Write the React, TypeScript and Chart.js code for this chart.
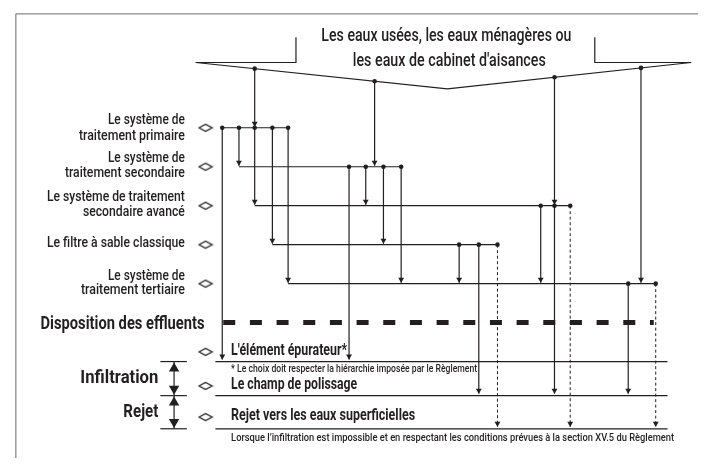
import React, { useEffect, useRef } from "react";
import { Chart, registerables } from "chart.js";

Chart.register(...registerables);

// ---------- data ----------
const titleLines = ["Les eaux usées, les eaux ménagères ou", "les eaux de cabinet d'aisances"];
const collectorX = [193, 449, 697];
const collectorY = [58, 85, 58];

const rowLabels = [
  ["Le système de", "traitement primaire"],
  ["Le système de", "traitement secondaire"],
  ["Le système de traitement", "secondaire avancé"],
  ["Le filtre à sable classique"],
  ["Le système de", "traitement tertiaire"],
];
const rowY = [125, 165, 205, 245, 285];
const rowStart = [220, 237, 253, 271, 287];
const rowTaps = [
  [220, 237, 253, 271, 287],
  [349, 366, 384, 402],
  [544, 558, 574],
  [461, 481, 500],
  [633, 661],
];
const sourceTaps = [253, 375, 558, 646];
const sourceTarget = [0, 1, 2, 4];

// [x, from row, target (row index or output index as "o0".."o2")]
const links: [number, number, number | string][] = [
  [220, 0, "o0"], [237, 0, 1], [253, 0, 2], [271, 0, 3], [287, 0, 4],
  [349, 1, "o0"], [366, 1, 2], [384, 1, 3], [402, 1, 4],
  [544, 2, 4], [558, 2, "o1"], [574, 2, "o2"],
  [461, 3, 4], [481, 3, "o1"], [500, 3, "o2"],
  [633, 4, "o1"], [661, 4, "o2"],
];

const dispositionLabel = "Disposition des effluents";
const outputLabels = ["L'élément épurateur*", "Le champ de polissage", "Rejet vers les eaux superficielles"];
const outputY = [365, 400, 434];
const outputNotes = [
  "* Le choix doit respecter la hiérarchie imposée par le Règlement",
  "Lorsque l’infiltration est impossible et en respectant les conditions prévues à la section XV.5 du Règlement",
];
const zoneLabels = ["Infiltration", "Rejet"];

// ---------- layout ----------
const W = 704;
const H = 464;
const INK = "#231f20";
const FONT = "Roboto, 'Noto Sans', sans-serif";

const vY = (x: number) => {
  for (let i = 0; i < collectorX.length - 1; i++) {
    if (x >= collectorX[i] && x <= collectorX[i + 1]) {
      const t = (x - collectorX[i]) / (collectorX[i + 1] - collectorX[i]);
      return collectorY[i] + t * (collectorY[i + 1] - collectorY[i]);
    }
  }
  return collectorY[0];
};

const targetY = (t: number | string) =>
  typeof t === "number" ? rowY[t] - 1 : outputY[Number(String(t).slice(1))] - 2;

type Txt = { s: string; x: number; y: number; size: number; weight: number; w: number; align: CanvasTextAlign };

function buildTexts(): Txt[] {
  const t: Txt[] = [];
  t.push({ s: titleLines[0], x: 448, y: 31, size: 17.5, weight: 500, w: 250, align: "center" });
  t.push({ s: titleLines[1], x: 451, y: 57, size: 17.5, weight: 500, w: 193, align: "center" });
  const labelY = [[117, 134], [156, 172], [196, 212], [244], [277, 292]];
  const labelW = [[77, 106], [77, 120], [138, 102], [138], [77, 104]];
  rowLabels.forEach((lines, i) =>
    lines.forEach((s, j) =>
      t.push({ s, x: 182, y: labelY[i][j], size: 15, weight: 500, w: labelW[i][j], align: "right" })
    )
  );
  t.push({ s: dispositionLabel, x: 202, y: 327, size: 18, weight: 700, w: 164, align: "right" });
  t.push({ s: zoneLabels[0], x: 155, y: 382, size: 18, weight: 700, w: 78, align: "right" });
  t.push({ s: zoneLabels[1], x: 155, y: 417, size: 18, weight: 700, w: 35, align: "right" });
  const outTextY = [354, 389, 421];
  const outW = [116, 126, 184];
  outputLabels.forEach((s, i) =>
    t.push({ s, x: 229, y: outTextY[i], size: 16, weight: 700, w: outW[i], align: "left" })
  );
  t.push({ s: outputNotes[0], x: 229, y: 373, size: 10.5, weight: 500, w: 246, align: "left" });
  t.push({ s: outputNotes[1], x: 229, y: 444, size: 11.5, weight: 500, w: 443, align: "left" });
  return t;
}

function diamondImage() {
  const c = document.createElement("canvas");
  c.width = 16;
  c.height = 10;
  const g = c.getContext("2d")!;
  g.strokeStyle = INK;
  g.lineWidth = 1.3;
  g.beginPath();
  g.moveTo(1.5, 5);
  g.lineTo(8, 1.5);
  g.lineTo(14.5, 5);
  g.lineTo(8, 8.5);
  g.closePath();
  g.stroke();
  return c;
}

const seg = (pts: number[][], extra: any = {}) => ({
  data: pts.map(([x, y]) => ({ x, y })),
  showLine: true,
  borderColor: INK,
  borderWidth: 1.2,
  pointRadius: 0,
  tension: 0,
  clip: false,
  ...extra,
});

const marks = (pts: number[][], extra: any) => ({
  data: pts.map(([x, y]) => ({ x, y })),
  showLine: false,
  backgroundColor: INK,
  borderColor: INK,
  borderWidth: 0,
  clip: false,
  ...extra,
});

function buildDatasets() {
  const ds: any[] = [];
  // frame
  ds.push(seg([[10, 8], [W, 8]], { borderColor: "#8a8a8a", borderWidth: 1.3 }));
  ds.push(seg([[10, 8], [10, H]], { borderColor: "#8a8a8a", borderWidth: 1.3 }));
  // title brackets & collector
  ds.push(seg([[collectorX[0], collectorY[0]], [295, 58], [295, 32]]));
  ds.push(seg([[599, 32], [599, 58], [collectorX[2], collectorY[2]]]));
  ds.push(seg(collectorX.map((x, i) => [x, collectorY[i]])));

  const arrowR = 3.4;
  const arrows: number[][] = [];
  const dots: number[][] = [];

  sourceTaps.forEach((x, i) => {
    const y0 = vY(x);
    const ty = targetY(sourceTarget[i]);
    dots.push([x, y0]);
    ds.push(seg([[x, y0], [x, ty]]));
    arrows.push([x, ty - arrowR]);
  });

  rowY.forEach((y, i) => {
    const end = Math.max(...rowTaps[i]);
    ds.push(seg([[rowStart[i], y], [end, y]]));
    rowTaps[i].forEach((x) => dots.push([x, y]));
  });

  links.forEach(([x, from, to]) => {
    const ty = targetY(to);
    const dashed = to === "o2";
    ds.push(seg([[x, rowY[from]], [x, ty]], dashed ? { borderDash: [3, 2.5], borderWidth: 1 } : {}));
    arrows.push([x, ty - arrowR]);
  });

  // disposition thick dashed line
  ds.push(seg([[221, 325], [659, 325]], { borderWidth: 5, borderDash: [12, 14.67], borderCapStyle: "butt" }));

  // output lines
  outputY.forEach((y) => {
    ds.push(seg([[213, y], [673, y]]));
    ds.push(seg([[157, y], [184, y]]));
  });
  // zone bracket
  ds.push(seg([[171, outputY[0]], [171, outputY[2]]]));
  const bigR = 6;
  const upArrows = [[171, outputY[0] + 1 + bigR], [171, outputY[1] + 1 + bigR]];
  const downArrows = [[171, outputY[1] - 1 - bigR], [171, outputY[2] - 1 - bigR]];

  // diamonds
  const diamondY = [...rowY, 355, 390, 422];
  ds.push(marks(diamondY.map((y) => [203, y]), { pointStyle: diamondImage(), pointRadius: 6 }));

  ds.push(marks(dots, { pointStyle: "circle", pointRadius: 2.3 }));
  ds.push(marks(arrows, { pointStyle: "triangle", pointRadius: arrowR, pointRotation: 180 }));
  ds.push(marks(upArrows, { pointStyle: "triangle", pointRadius: bigR, pointRotation: 0 }));
  ds.push(marks(downArrows, { pointStyle: "triangle", pointRadius: bigR, pointRotation: 180 }));
  return ds;
}

const textPlugin = {
  id: "diagramText",
  afterDatasetsDraw(chart: any) {
    const { ctx, scales } = chart;
    const texts = buildTexts();
    ctx.save();
    ctx.fillStyle = INK;
    ctx.textBaseline = "middle";
    texts.forEach((t) => {
      ctx.font = `${t.weight} ${t.size}px ${FONT}`;
      const natural = ctx.measureText(t.s).width;
      const sx = t.w / natural;
      const px = scales.x.getPixelForValue(t.x);
      const py = scales.y.getPixelForValue(t.y);
      ctx.save();
      ctx.translate(px, py);
      ctx.scale(sx, 1);
      ctx.textAlign = t.align;
      ctx.fillText(t.s, 0, 0);
      ctx.restore();
    });
    ctx.restore();
  },
};

export default function App() {
  const ref = useRef<HTMLCanvasElement>(null);
  useEffect(() => {
    if (!ref.current) return;
    const chart = new Chart(ref.current, {
      type: "scatter",
      data: { datasets: buildDatasets() },
      options: {
        responsive: false,
        animation: false,
        events: [],
        layout: { padding: 0 },
        plugins: { legend: { display: false }, tooltip: { enabled: false } },
        scales: {
          x: { type: "linear", min: 0, max: W, display: false },
          y: { type: "linear", min: 0, max: H, reverse: true, display: false },
        },
      },
      plugins: [textPlugin],
    } as any);
    return () => chart.destroy();
  }, []);
  return (
    <div style={{ position: "fixed", left: 0, top: 0, width: W, height: H, background: "#fff" }}>
      <canvas ref={ref} width={W} height={H} style={{ display: "block" }} />
    </div>
  );
}
